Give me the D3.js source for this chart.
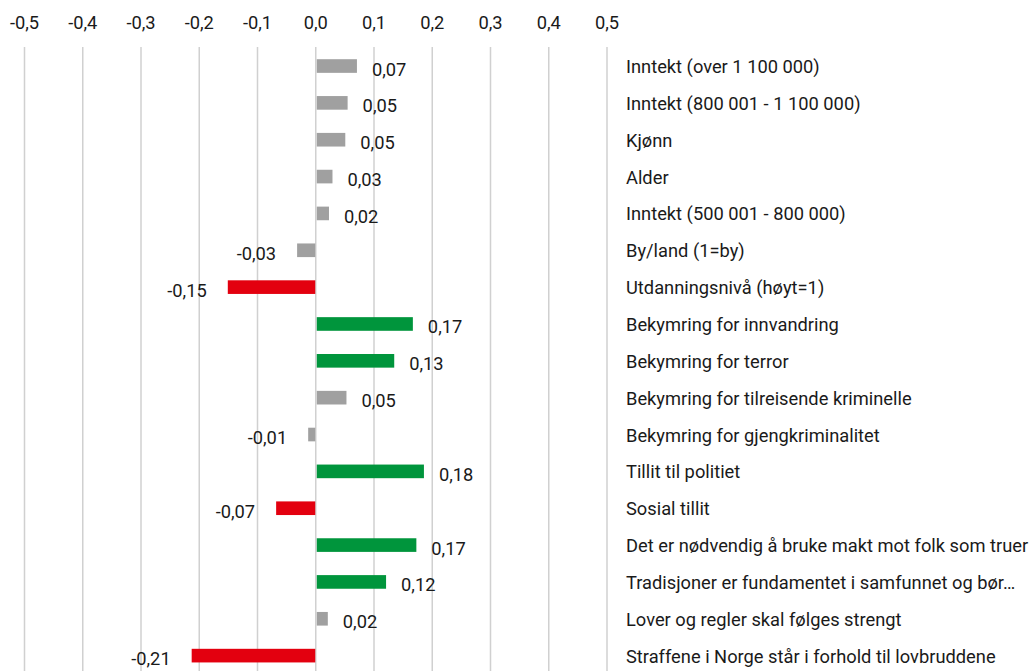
<!DOCTYPE html>
<html>
<head>
<meta charset="utf-8">
<script src="https://cdn.jsdelivr.net/npm/d3@7/dist/d3.min.js"></script>
<style>
  html, body { margin: 0; padding: 0; background: #fff; }
  svg { display: block; }
  text { font-family: Roboto, "Noto Sans", sans-serif; fill: #1a1a1a; }
</style>
</head>
<body>
<svg id="chart" width="1031" height="671"></svg>
<script>
const categories = [
  "Inntekt (over 1 100 000)",
  "Inntekt (800 001 - 1 100 000)",
  "Kjønn",
  "Alder",
  "Inntekt (500 001 - 800 000)",
  "By/land (1=by)",
  "Utdanningsnivå (høyt=1)",
  "Bekymring for innvandring",
  "Bekymring for terror",
  "Bekymring for tilreisende kriminelle",
  "Bekymring for gjengkriminalitet",
  "Tillit til politiet",
  "Sosial tillit",
  "Det er nødvendig å bruke makt mot folk som truer",
  "Tradisjoner er fundamentet i samfunnet og bør…",
  "Lover og regler skal følges strengt",
  "Straffene i Norge står i forhold til lovbruddene"
];
const values = [0.069, 0.053, 0.049, 0.027, 0.021, -0.032, -0.151, 0.165, 0.133, 0.051, -0.013, 0.184, -0.068, 0.171, 0.119, 0.019, -0.213];
const groups = ["grey","grey","grey","grey","grey","grey","red","green","green","grey","grey","green","red","green","green","grey","red"];
const tickValues = [-0.5, -0.4, -0.3, -0.2, -0.1, 0.0, 0.1, 0.2, 0.3, 0.4, 0.5];

const colors = { grey: "#a0a0a0", red: "#e3000f", green: "#00953c" };
const fmt = v => d3.format(".2f")(v).replace("−", "-").replace(".", ",");
const fmtTick = v => d3.format(".1f")(v).replace("−", "-").replace(".", ",");

const svg = d3.select("#chart");
const x = d3.scaleLinear().domain([-0.5, 0.5]).range([24.5, 607]);
const y = d3.scaleBand().domain(d3.range(categories.length)).range([47.6, 47.6 + 17 * 36.85]).paddingInner(0.63).paddingOuter(0.315);
const fs = "18.3px";

// gridlines
svg.append("g").selectAll("line").data(tickValues).join("line")
  .attr("x1", d => x(d)).attr("x2", d => x(d))
  .attr("y1", 47).attr("y2", 680)
  .attr("stroke", "#d0d0d0").attr("stroke-width", 1.5);

// top axis labels
svg.append("g").selectAll("text").data(tickValues).join("text")
  .attr("x", d => x(d)).attr("y", 29)
  .attr("text-anchor", "middle")
  .style("font-size", fs)
  .text(fmtTick);

// bars
svg.append("g").selectAll("rect").data(values).join("rect")
  .attr("x", d => d >= 0 ? x(0) + 1 : x(d))
  .attr("width", d => d >= 0 ? x(d) - x(0) : x(0) - x(d) - 0.5)
  .attr("y", (d, i) => y(i))
  .attr("height", y.bandwidth())
  .attr("fill", (d, i) => colors[groups[i]]);

// value labels
svg.append("g").selectAll("text").data(values).join("text")
  .attr("x", d => d >= 0 ? x(d) + 16 : x(d) - 21)
  .attr("y", (d, i) => y(i) + y.bandwidth() / 2 + 9.5)
  .attr("text-anchor", d => d >= 0 ? "start" : "end")
  .style("font-size", fs)
  .text(fmt);

// category labels
svg.append("g").selectAll("text").data(categories).join("text")
  .attr("x", 626)
  .attr("y", (d, i) => y(i) + y.bandwidth() / 2 + 7)
  .attr("text-anchor", "start")
  .style("font-size", fs)
  .text(d => d);
</script>
</body>
</html>
